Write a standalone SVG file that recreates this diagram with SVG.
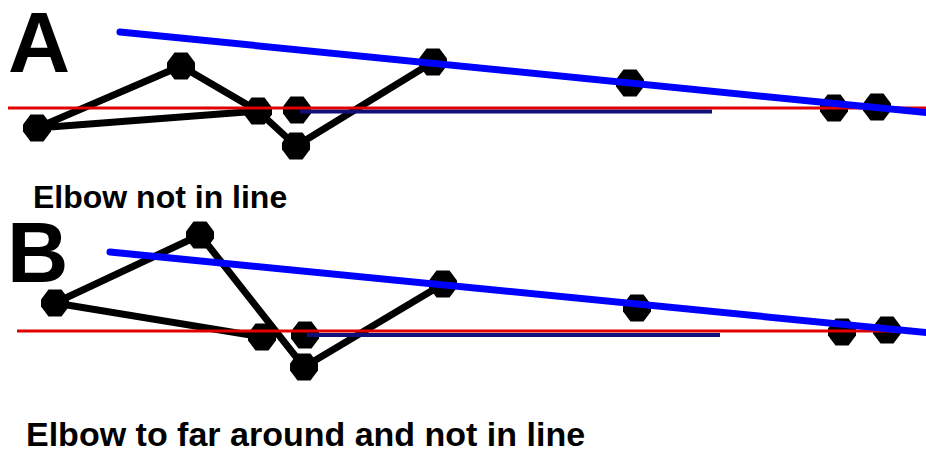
<svg xmlns="http://www.w3.org/2000/svg" width="926" height="454" viewBox="0 0 926 454">
<style>
.lbl{font-family:"Liberation Sans",Arial,sans-serif;font-weight:bold;fill:#000}
.bone{stroke:#000;stroke-width:7;fill:none;stroke-linecap:round;stroke-linejoin:round}
.red{stroke:#e00000;stroke-width:3;fill:none}
.navy{stroke:#10107a;stroke-width:4;fill:none}
.blue{stroke:#0000ff;stroke-width:7;fill:none;stroke-linecap:round}
</style>
<defs>
<polygon id="joint" points="-6.5,-13.5 6.5,-13.5 14,-3.5 14,3.5 6.5,13.5 -6.5,13.5 -14,3.5 -14,-3.5" fill="#000"/>
</defs>
<rect width="926" height="454" fill="#fff"/>
<g id="titleA"><text class="lbl" x="8" y="72" font-size="86">A</text></g>
<g id="titleB"><text class="lbl" x="7" y="282" font-size="85">B</text></g>
<g id="captionA"><text class="lbl" x="33" y="208" font-size="32">Elbow not in line</text></g>
<g id="captionB"><text class="lbl" x="26" y="446" font-size="34">Elbow to far around and not in line</text></g>
<g id="connectors">
<polyline class="bone" points="37,128 181,66 258,111 296,146 433,62"/>
<line class="bone" x1="37" y1="128" x2="258" y2="111"/>
<polyline class="bone" points="55,303 200,235 304,367 443,284"/>
<line class="bone" x1="55" y1="303" x2="262" y2="337"/>
</g>
<g id="nodesA">
<g id="a1"><use href="#joint" x="37" y="128"/></g>
<g id="a2"><use href="#joint" x="181" y="66"/></g>
<g id="a3"><use href="#joint" x="258" y="111"/></g>
<g id="a4"><use href="#joint" x="297" y="110"/></g>
<g id="a5"><use href="#joint" x="296" y="146"/></g>
<g id="a6"><use href="#joint" x="433" y="62"/></g>
<g id="a7"><use href="#joint" x="630" y="83"/></g>
<g id="a8"><use href="#joint" x="834" y="108"/></g>
<g id="a9"><use href="#joint" x="877" y="107"/></g>
</g>
<g id="nodesB">
<g id="b1"><use href="#joint" x="55" y="303"/></g>
<g id="b2"><use href="#joint" x="200" y="235"/></g>
<g id="b3"><use href="#joint" x="262" y="337"/></g>
<g id="b4"><use href="#joint" x="305" y="335"/></g>
<g id="b5"><use href="#joint" x="304" y="367"/></g>
<g id="b6"><use href="#joint" x="443" y="284"/></g>
<g id="b7"><use href="#joint" x="637" y="308"/></g>
<g id="b8"><use href="#joint" x="842" y="332"/></g>
<g id="b9"><use href="#joint" x="887" y="330"/></g>
</g>
<g id="guides">
<line class="navy" x1="300" y1="111.5" x2="712" y2="111.5"/>
<line class="red" x1="8" y1="108" x2="926" y2="108"/>
<line class="blue" x1="120" y1="32" x2="930" y2="113"/>
<line class="navy" x1="307" y1="335" x2="720" y2="335"/>
<line class="red" x1="17" y1="331" x2="926" y2="331" stroke-width="4"/>
<line class="blue" x1="110" y1="252" x2="930" y2="333"/>
</g>
</svg>
